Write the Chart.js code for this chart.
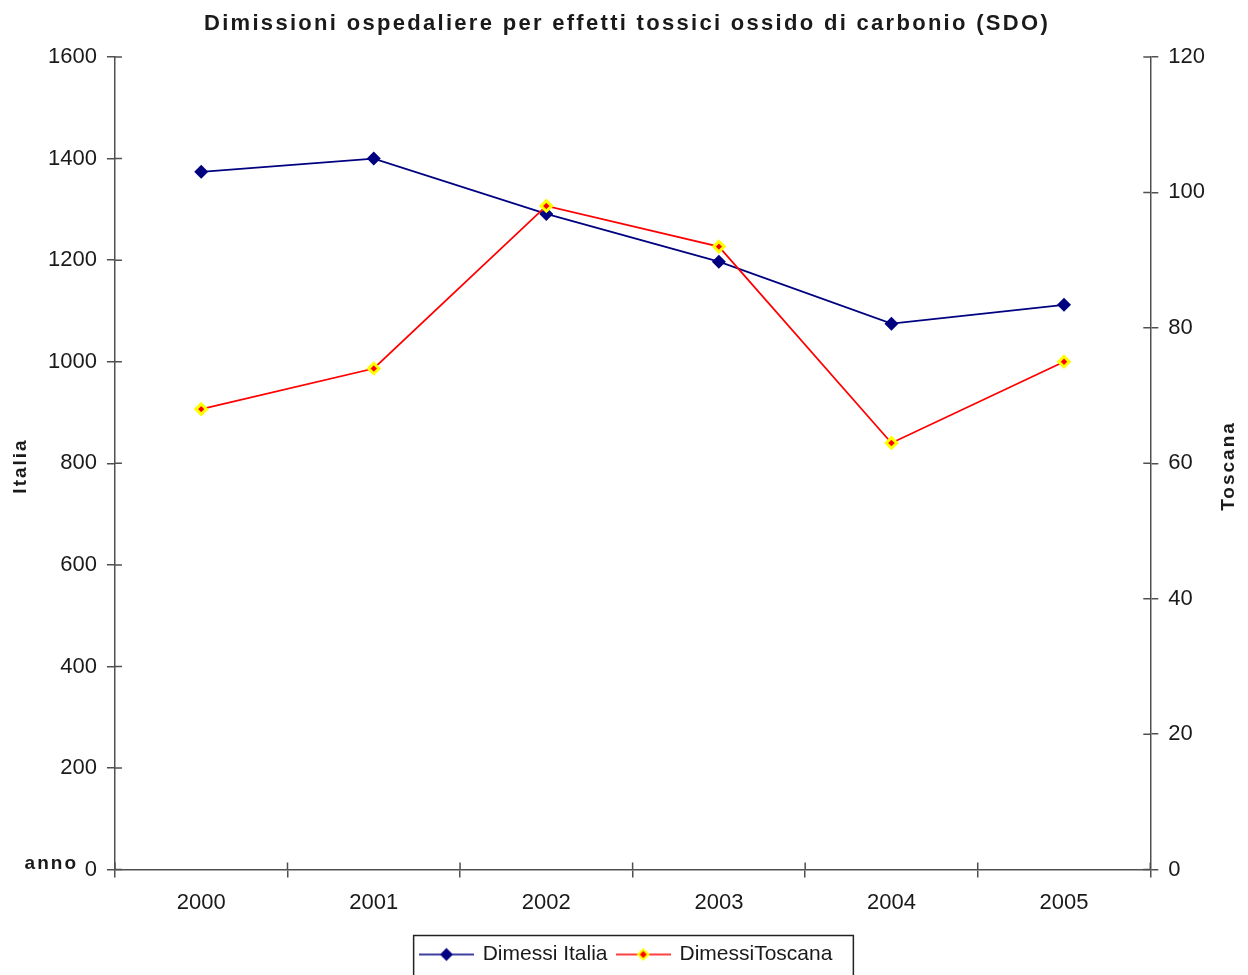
<!DOCTYPE html>
<html>
<head>
<meta charset="utf-8">
<script src="https://cdn.jsdelivr.net/npm/chart.js@4"></script>
<style>
  html, body { margin: 0; padding: 0; background: #fff; overflow: hidden; }
  #wrap { width: 1248px; height: 975px; }
</style>
</head>
<body>
<div id="wrap"><canvas id="chart"></canvas></div>
<script>
const anni = ['2000', '2001', '2002', '2003', '2004', '2005'];
const dimessiItalia = [1374, 1400, 1291, 1197, 1075, 1112];
const dimessiToscana = [68, 74, 98, 92, 63, 75];
const italiaTicks = { min: 0, max: 1600, step: 200 };
const toscanaTicks = { min: 0, max: 120, step: 20 };

const FONT = '"Liberation Sans", Arial, sans-serif';
const NAVY = '#000080';
const RED = '#ff0000';
const YELLOW = '#ffff00';
const AXIS = '#505050';
const TEXT = '#1a1a1a';

// legend glyph: short line with a diamond in the middle
function legendGlyph(lineColor, fill, border) {
  const c = document.createElement('canvas');
  c.width = 55; c.height = 16;
  const g = c.getContext('2d');
  g.strokeStyle = lineColor;
  g.lineWidth = 1.5;
  g.beginPath(); g.moveTo(0, 8); g.lineTo(55, 8); g.stroke();
  const r = 6.5;
  g.fillStyle = border || fill;
  g.beginPath();
  g.moveTo(27.5, 8 - r); g.lineTo(27.5 + r, 8); g.lineTo(27.5, 8 + r); g.lineTo(27.5 - r, 8);
  g.closePath(); g.fill();
  if (border) {
    g.fillStyle = fill;
    g.beginPath();
    g.moveTo(27.5, 4.5); g.lineTo(31, 8); g.lineTo(27.5, 11.5); g.lineTo(24, 8);
    g.closePath(); g.fill();
  }
  return c;
}

function spacedText(ctx, text, x, y, spacing) {
  ctx.letterSpacing = spacing + 'px';
  ctx.fillText(text, x, y);
  ctx.letterSpacing = '0px';
}

const extras = {
  id: 'extras',
  beforeDatasetsDraw(chart) {
    // inner half of the tick marks (they cross the axis line)
    const { ctx, chartArea, scales } = chart;
    ctx.save();
    ctx.strokeStyle = AXIS;
    ctx.lineWidth = 1.5;
    ctx.beginPath();
    scales.y.ticks.forEach((t, i) => {
      const py = scales.y.getPixelForTick(i);
      ctx.moveTo(chartArea.left, py); ctx.lineTo(chartArea.left + 7, py);
    });
    scales.y1.ticks.forEach((t, i) => {
      const py = scales.y1.getPixelForTick(i);
      ctx.moveTo(chartArea.right, py); ctx.lineTo(chartArea.right - 7, py);
    });
    for (let i = 0; i <= anni.length; i++) {
      const px = scales.x.getPixelForValue(i - 0.5);
      ctx.moveTo(px, chartArea.bottom); ctx.lineTo(px, chartArea.bottom - 7);
    }
    ctx.stroke();
    ctx.restore();
  },
  afterDraw(chart) {
    const { ctx, chartArea } = chart;
    ctx.save();
    ctx.fillStyle = TEXT;

    ctx.font = 'bold 22px ' + FONT;
    ctx.textAlign = 'center';
    ctx.textBaseline = 'alphabetic';
    spacedText(ctx, 'Dimissioni ospedaliere per effetti tossici ossido di carbonio (SDO)', 627, 30, 2.3);

    ctx.font = 'bold 19px ' + FONT;
    ctx.textBaseline = 'middle';
    const midY = 466;
    ctx.save();
    ctx.translate(21, midY);
    ctx.rotate(-Math.PI / 2);
    spacedText(ctx, 'Italia', 0, 0, 2);
    ctx.restore();
    ctx.save();
    ctx.translate(1229, midY);
    ctx.rotate(-Math.PI / 2);
    spacedText(ctx, 'Toscana', 0, 0, 2);
    ctx.restore();

    ctx.textAlign = 'right';
    ctx.textBaseline = 'alphabetic';
    spacedText(ctx, 'anno', 78, chartArea.bottom - 1, 2);

    // legend frame
    const boxes = chart.legend.legendHitBoxes;
    if (boxes && boxes.length) {
      const first = boxes[0], last = boxes[boxes.length - 1];
      const left = first.left - 7;
      const right = last.left + last.width + 21;
      const top = first.top + first.height / 2 - 19;
      ctx.strokeStyle = '#222';
      ctx.lineWidth = 1.5;
      ctx.strokeRect(left, top, right - left, 60);
    }
    ctx.restore();
  }
};

const tickFont = { family: FONT, size: 22 };

const ctx = document.getElementById('chart').getContext('2d');
new Chart(ctx, {
  type: 'line',
  data: {
    labels: anni,
    datasets: [
      {
        label: 'Dimessi Italia',
        data: dimessiItalia,
        yAxisID: 'y',
        order: 1,
        borderColor: NAVY,
        backgroundColor: NAVY,
        borderWidth: 1.75,
        pointStyle: 'rectRot',
        pointRadius: 7,
        pointBackgroundColor: NAVY,
        pointBorderColor: NAVY,
        pointBorderWidth: 0,
        tension: 0
      },
      {
        label: 'DimessiToscana',
        data: dimessiToscana,
        yAxisID: 'y1',
        order: 0,
        borderColor: RED,
        backgroundColor: RED,
        borderWidth: 1.75,
        pointStyle: 'rectRot',
        pointRadius: 5.25,
        pointBackgroundColor: RED,
        pointBorderColor: YELLOW,
        pointBorderWidth: 3,
        tension: 0
      }
    ]
  },
  options: {
    responsive: true,
    maintainAspectRatio: false,
    animation: false,
    layout: { padding: { left: 38, right: 33, top: 57, bottom: 0 } },
    plugins: {
      title: { display: false },
      legend: {
        position: 'bottom',
        labels: {
          color: TEXT,
          font: { family: FONT, size: 21 },
          usePointStyle: true,
          pointStyleWidth: 51.5,
          padding: 10,
          generateLabels(chart) {
            const items = Chart.defaults.plugins.legend.labels.generateLabels(chart);
            items.sort((a, b) => a.datasetIndex - b.datasetIndex);
            items[0].pointStyle = legendGlyph(NAVY, NAVY, null);
            items[1].pointStyle = legendGlyph(RED, RED, YELLOW);
            return items;
          }
        }
      },
      tooltip: { enabled: false }
    },
    scales: {
      x: {
        type: 'category',
        offset: true,
        grid: { offset: true, drawOnChartArea: false, tickLength: 8, color: AXIS, lineWidth: 1.5 },
        border: { color: AXIS, width: 1.5 },
        ticks: { color: TEXT, font: tickFont, padding: 12 },
        afterFit(scale) { scale.height += 6; }
      },
      y: {
        position: 'left',
        min: italiaTicks.min,
        max: italiaTicks.max,
        grid: { drawOnChartArea: false, tickLength: 8, color: AXIS, lineWidth: 1.5 },
        border: { color: AXIS, width: 1.5 },
        ticks: { stepSize: italiaTicks.step, color: TEXT, font: tickFont, padding: 10, callback: v => String(v) }
      },
      y1: {
        position: 'right',
        min: toscanaTicks.min,
        max: toscanaTicks.max,
        grid: { drawOnChartArea: false, tickLength: 8, color: AXIS, lineWidth: 1.5 },
        border: { color: AXIS, width: 1.5 },
        ticks: { stepSize: toscanaTicks.step, color: TEXT, font: tickFont, padding: 10, callback: v => String(v) }
      }
    }
  },
  plugins: [extras]
});
</script>
</body>
</html>
